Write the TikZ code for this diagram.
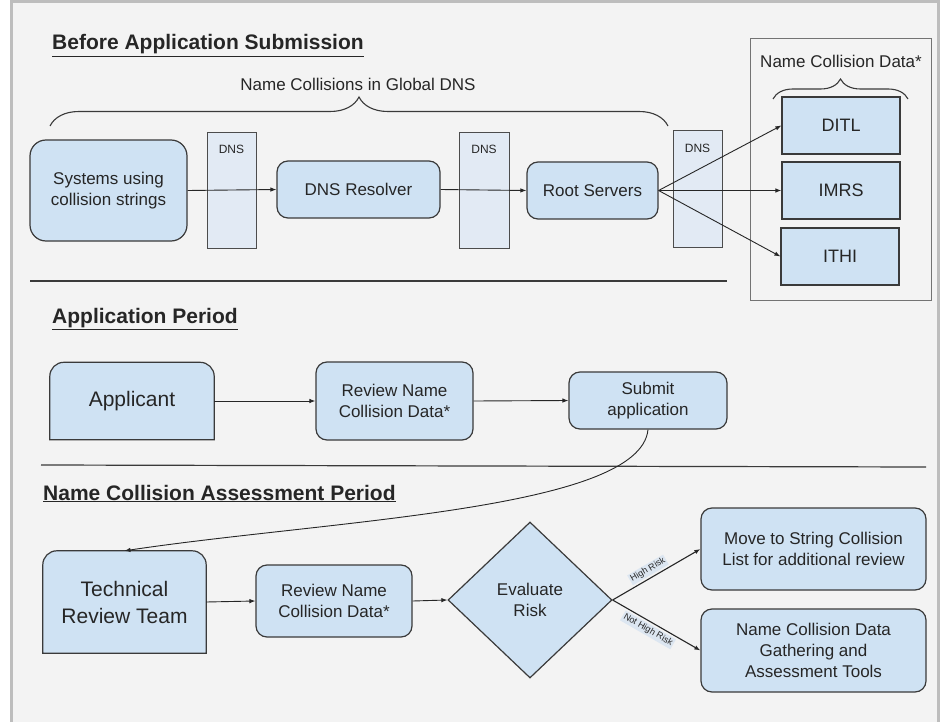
\documentclass[tikz,border=0pt]{standalone}
\usepackage{fontspec}
\setmainfont{Liberation Sans}
\definecolor{ncbg}{HTML}{F3F3F3}
\definecolor{ncframe}{HTML}{BDBDBD}
\definecolor{ncblue}{HTML}{CFE2F3}
\definecolor{ncpale}{HTML}{E2EAF4}
\definecolor{nctag}{HTML}{DCE6F1}
\definecolor{ncline}{HTML}{3A3A3A}
\definecolor{nctext}{HTML}{262626}
\usetikzlibrary{arrows.meta,positioning,shapes.geometric,decorations.pathreplacing}

\begin{document}
\begin{tikzpicture}[x=1pt, y=-1pt,
  every node/.style={text=nctext},
  bluebox/.style={draw=ncline, fill=ncblue, line width=1.2pt, align=center, font=\fontsize{17}{21}\selectfont},
  roundbox/.style={bluebox, rounded corners=11pt},
  squarebox/.style={bluebox, font=\fontsize{18}{22}\selectfont},
  dnsbox/.style={draw=black!70, fill=ncpale, line width=0.9pt},
  dnstext/.style={font=\fontsize{12}{14}\selectfont},
  bigtext/.style={align=center, font=\fontsize{21}{27}\selectfont, inner sep=0pt},
  plaintext/.style={font=\fontsize{17}{21}\selectfont},
  title/.style={anchor=base west, inner sep=0pt, font=\fontsize{21}{25}\selectfont\bfseries},
  flow/.style={-{Latex[length=6pt,width=4.5pt]}, line width=0.9pt, draw=black!85},
  riskflow/.style={flow, line width=1.1pt},
  tag/.style={fill=nctag, sloped, inner sep=1.5pt, font=\fontsize{9}{10}\selectfont},
  divider/.style={line width=1.2pt, draw=ncline},
  grp/.style={decorate, decoration={brace, amplitude=#1}, line width=1.1pt, draw=ncline}]

  \useasboundingbox (0,0) rectangle (942,722);
  \fill[white] (0,0) rectangle (942,722);
  \draw[fill=ncbg, draw=ncframe, line width=3pt] (11,2) rectangle (938,730);

  %--- Before application submission ---
  \node[title] (titleA) at (52,50) {\underline{Before Application Submission}};
  \node[plaintext] (globaldns) at (358,84) {Name Collisions in Global DNS};
  \draw[grp=29pt] (50,126) -- (668,126);

  \node[roundbox, rounded corners=16pt, minimum width=157pt, minimum height=101pt] (systems) at (108.5,190.5) {Systems using\\collision strings};
  \node[dnsbox, minimum width=49pt, minimum height=116pt] (dnsA) at (231.5,190) {};
  \node[dnstext] (dnsAlbl) at (231.5,149) {DNS};
  \node[roundbox, minimum width=163pt, minimum height=57pt] (resolver) at (358.5,189.5) {DNS Resolver};
  \node[dnsbox, minimum width=50pt, minimum height=116pt] (dnsB) at (484,190) {};
  \node[dnstext] (dnsBlbl) at (484,149) {DNS};
  \node[roundbox, minimum width=131pt, minimum height=57pt] (root) at (592.5,190.5) {Root Servers};
  \node[dnsbox, minimum width=49pt, minimum height=117pt] (dnsC) at (697.5,188.5) {};
  \node[dnstext] (dnsClbl) at (697.5,148) {DNS};

  % collision data sources
  \node[draw=black!55, line width=0.9pt, minimum width=181pt, minimum height=262pt] (ncdata) at (840.5,169) {};
  \node[plaintext] (ncdatalbl) at (841,61) {Name Collision Data*};
  \draw[grp=20pt] (773,99) -- (908,99);
  \node[squarebox, minimum width=118pt, minimum height=57pt] (ditl) at (841,125.5) {DITL};
  \node[squarebox, minimum width=118pt, minimum height=57pt] (imrs) at (841,190.5) {IMRS};
  \node[squarebox, minimum width=118pt, minimum height=57pt] (ithi) at (840,256.5) {ITHI};

  \draw[flow] (systems.east) -- (resolver.west);
  \draw[flow] (resolver.east) -- (root.west);
  \draw[flow] (root.east) -- (ditl.west);
  \draw[flow] (root.east) -- (imrs.west);
  \draw[flow] (root.east) -- (ithi.west);

  \draw[divider] (30,281) -- (727,281);

  %--- Application period ---
  \node[title] (titleB) at (52,323) {\underline{Application Period}};

  \node[bigtext, minimum width=164pt, minimum height=77pt] (applicant) at (132,401) {};
  \draw[bluebox] (applicant.south west) [rounded corners=14pt] -- (applicant.north west) -- (applicant.north east) [sharp corners] -- (applicant.south east) -- cycle;
  \node[bigtext] (applicanttxt) at (applicant.center) {Applicant};
  \node[roundbox, minimum width=157pt, minimum height=78pt] (reviewA) at (394.5,401) {Review Name\\Collision Data*};
  \node[roundbox, minimum width=158pt, minimum height=57pt] (submit) at (648,400.5) {Submit\\application};

  \draw[flow] (applicant.east) -- (reviewA.west);
  \draw[flow] (reviewA.east) -- (submit.west);

  \draw[divider] (41,465) -- (926,467);

  %--- Name collision assessment period ---
  \node[title] (titleC) at (43,500) {\underline{Name Collision Assessment Period}};

  \node[bigtext, minimum width=163pt, minimum height=102pt] (trt) at (124.5,602) {};
  \draw[bluebox] (trt.south west) [rounded corners=14pt] -- (trt.north west) -- (trt.north east) [sharp corners] -- (trt.south east) -- cycle;
  \node[bigtext] (trttxt) at (trt.center) {Technical\\Review Team};

  \node[roundbox, minimum width=156pt, minimum height=72pt] (reviewB) at (334,601) {Review Name\\Collision Data*};
  \node[bluebox, diamond, aspect=1.05, inner sep=0pt, minimum width=164pt, minimum height=156pt] (risk) at (530,600) {Evaluate\\Risk};
  \node[roundbox, minimum width=225pt, minimum height=82pt] (movelist) at (813.5,549) {Move to String Collision\\List for additional review};
  \node[roundbox, minimum width=225pt, minimum height=83pt] (gather) at (813.5,650.5) {Name Collision Data\\Gathering and\\Assessment Tools};

  \draw[flow] (submit.south) .. controls (640,510) and (330,520) .. (trt.north);
  \draw[flow] (trt.east) -- (reviewB.west);
  \draw[flow] (reviewB.east) -- (risk.west);
  \draw[riskflow] (risk.east) -- node[tag, pos=0.45, above=2pt] {High Risk} (movelist.west);
  \draw[riskflow] (risk.east) -- node[tag, pos=0.45, below=2pt] {Not High Risk} (gather.west);
\end{tikzpicture}
\end{document}
